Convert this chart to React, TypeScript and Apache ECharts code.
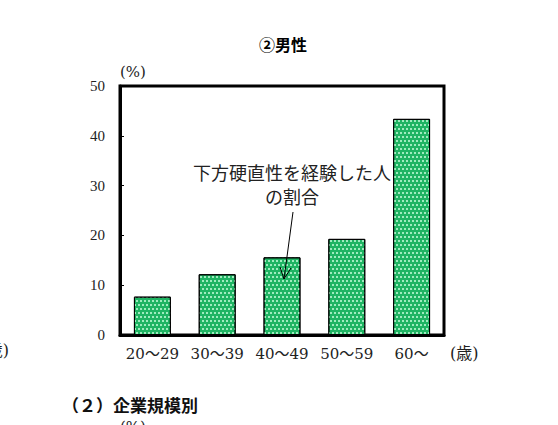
import React, { useEffect, useRef } from 'react';
import * as echarts from 'echarts';

const ageGroups = ['20～29', '30～39', '40～49', '50～59', '60～'];
const shareValues = [7.7, 12.2, 15.6, 19.3, 43.4];
const yTicks = { min: 0, max: 50, interval: 10 };

const serif = "'DejaVu Serif', 'Liberation Serif', 'Noto Sans CJK JP', serif";
const gothic = "'Noto Sans CJK JP', 'Noto Sans', sans-serif";

const App: React.FC = () => {
  const chartRef = useRef<HTMLDivElement>(null);

  useEffect(() => {
    if (!chartRef.current) return;
    const chart = echarts.init(chartRef.current, undefined, { renderer: 'svg' });

    const option: any = {
      animation: false,
      backgroundColor: '#fff',
      grid: {
        left: 120,
        right: 114,
        top: 86,
        bottom: 90,
        show: true,
        borderColor: '#000',
        borderWidth: 3,
        backgroundColor: 'transparent'
      },
      xAxis: {
        type: 'category',
        data: ageGroups,
        axisLine: { lineStyle: { color: '#000', width: 3 } },
        axisTick: { inside: true, length: 4, lineStyle: { color: '#000' } },
        axisLabel: { interval: 0, margin: 11, color: '#222', fontFamily: serif, fontSize: 15 }
      },
      yAxis: {
        type: 'value',
        min: yTicks.min,
        max: yTicks.max,
        interval: yTicks.interval,
        splitLine: { show: false },
        axisLine: { show: true, lineStyle: { color: '#000', width: 3 } },
        axisTick: { show: true, inside: true, length: 4, lineStyle: { color: '#000' } },
        axisLabel: { margin: 15, color: '#222', fontFamily: "'Liberation Serif', serif", fontSize: 15 }
      },
      series: [
        {
          type: 'bar',
          data: shareValues,
          barWidth: '57%',
          itemStyle: {
            color: '#1fb463',
            borderColor: '#000',
            borderWidth: 1,
            decal: {
              symbol: 'rect',
              symbolSize: 1,
              color: 'rgba(200,255,220,0.75)',
              dashArrayX: [[2, 2], [0, 2, 2, 0]],
              dashArrayY: [1.5, 1.5]
            }
          }
        }
      ],
      graphic: [
        {
          type: 'text',
          x: 283,
          y: 44,
          z: 100,
          style: { text: '②男性', font: `bold 16px ${gothic}`, fill: '#000', align: 'center', verticalAlign: 'middle' }
        },
        {
          type: 'text',
          x: 120,
          y: 72,
          z: 100,
          style: { text: '(%)', font: `15px ${serif}`, fill: '#222', align: 'left', verticalAlign: 'middle' }
        },
        {
          type: 'text',
          x: 450,
          y: 353,
          z: 100,
          style: { text: '(歳)', font: `16px ${serif}`, fill: '#222', align: 'left', verticalAlign: 'middle' }
        },
        {
          type: 'text',
          x: 9,
          y: 350,
          z: 100,
          style: { text: '(歳)', font: `16px ${serif}`, fill: '#222', align: 'right', verticalAlign: 'middle' }
        },
        {
          type: 'text',
          x: 292,
          y: 172,
          z: 100,
          style: { text: '下方硬直性を経験した人', font: `18px ${gothic}`, fill: '#222', align: 'center', verticalAlign: 'middle' }
        },
        {
          type: 'text',
          x: 292,
          y: 196,
          z: 100,
          style: { text: 'の割合', font: `18px ${gothic}`, fill: '#222', align: 'center', verticalAlign: 'middle' }
        },
        {
          type: 'line',
          z: 100,
          shape: { x1: 293, y1: 212, x2: 284, y2: 279 },
          style: { stroke: '#000', lineWidth: 1 }
        },
        {
          type: 'polyline',
          z: 100,
          shape: { points: [[280, 267], [284, 279], [291, 268]] },
          style: { stroke: '#000', lineWidth: 1, fill: null }
        },
        {
          type: 'text',
          x: 62,
          y: 404,
          z: 100,
          style: { text: '（２）企業規模別', font: `bold 17px ${gothic}`, fill: '#111', align: 'left', verticalAlign: 'middle' }
        },
        {
          type: 'text',
          x: 120,
          y: 419,
          z: 100,
          style: { text: '(%)', font: `15px ${serif}`, fill: '#222', align: 'left', verticalAlign: 'top' }
        }
      ]
    };

    chart.setOption(option);
    return () => {
      chart.dispose();
    };
  }, []);

  return (
    <div
      ref={chartRef}
      style={{ position: 'fixed', left: 0, top: 0, width: 558, height: 425 }}
    />
  );
};

export default App;
